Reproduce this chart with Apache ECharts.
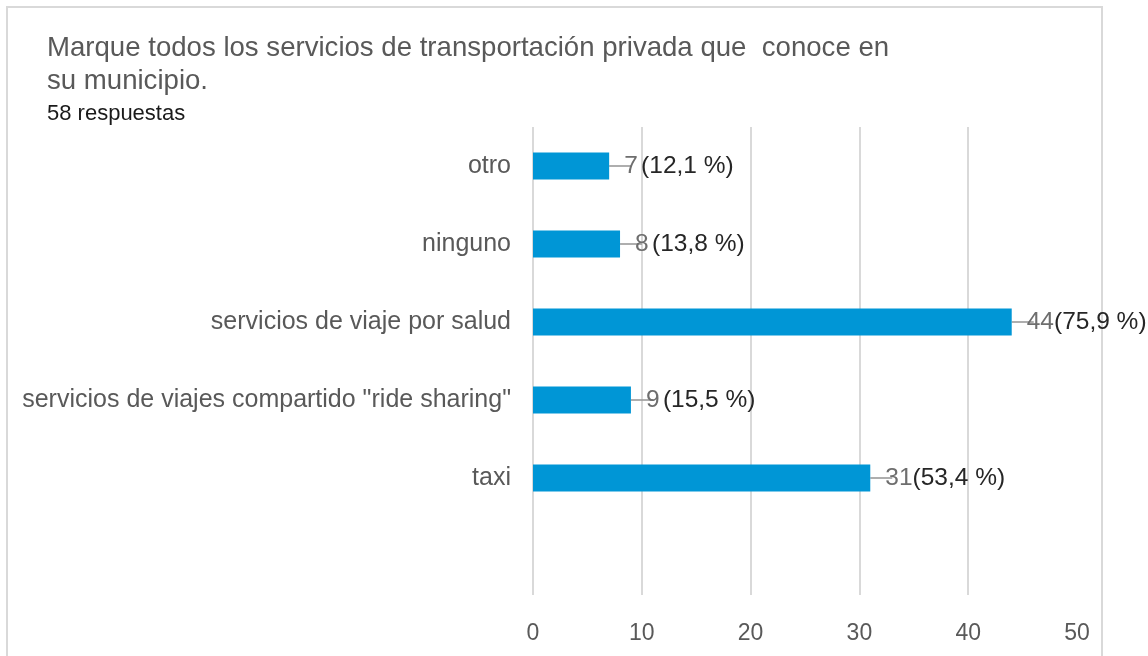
<!DOCTYPE html>
<html>
<head>
<meta charset="utf-8">
<script src="https://cdn.jsdelivr.net/npm/echarts@6/dist/echarts.min.js"></script>
<style>
html,body{margin:0;padding:0;background:#fff;}
#chart{width:1148px;height:656px;}
</style>
</head>
<body>
<div id="chart"></div>
<script>
const categories = ['otro', 'ninguno', 'servicios de viaje por salud', 'servicios de viajes compartido "ride sharing"', 'taxi', ''];
const counts = [7, 8, 44, 9, 31, null];
const percents = ['12,1 %', '13,8 %', '75,9 %', '15,5 %', '53,4 %', ''];
const xTicks = [0, 10, 20, 30, 40, 50];

const FONT = '"Liberation Sans", Arial, sans-serif';
const chart = echarts.init(document.getElementById('chart'));

const leaderData = counts.map((v, i) => v == null ? null : [v, i]).filter(d => d);

chart.setOption({
  animation: false,
  textStyle: { fontFamily: FONT },
  graphic: [{
    type: 'rect',
    shape: { x: 7, y: 7, width: 1095, height: 700 },
    style: { fill: 'none', stroke: '#d9d9d9', lineWidth: 2 },
    silent: true
  }],
  title: [{
    text: 'Marque todos los servicios de transportación privada que  conoce en\nsu municipio.',
    left: 47, top: 32, padding: 0,
    textStyle: { fontFamily: FONT, fontSize: 27.6, fontWeight: 'normal', color: '#595959', lineHeight: 33 }
  }, {
    text: '58 respuestas',
    left: 47, top: 102, padding: 0,
    textStyle: { fontFamily: FONT, fontSize: 22, fontWeight: 'normal', color: '#1a1a1a', lineHeight: 24 }
  }],
  grid: { left: 533, right: 71, top: 127, bottom: 61, containLabel: false },
  xAxis: {
    type: 'value', min: 0, max: 50, interval: 10,
    axisLine: { show: false }, axisTick: { show: false },
    splitLine: { show: true, showMaxLine: false, lineStyle: { color: '#d9d9d9', width: 2 } },
    axisLabel: { fontFamily: FONT, fontSize: 23, color: '#595959', margin: 27,
      formatter: v => xTicks.includes(v) ? String(v) : '' }
  },
  yAxis: {
    type: 'category', data: categories, inverse: true,
    axisLine: { show: false }, axisTick: { show: false }, splitLine: { show: false },
    axisLabel: { fontFamily: FONT, fontSize: 25, color: '#595959', margin: 22 }
  },
  series: [{
    type: 'scatter',
    data: leaderData,
    symbol: 'rect',
    symbolSize: [22, 2],
    symbolOffset: [11, 0],
    itemStyle: { color: '#9a9a9a' },
    z: 1,
    silent: true
  }, {
    type: 'bar',
    data: counts,
    barWidth: 27,
    itemStyle: { color: '#0096d6' },
    z: 2,
    label: {
      show: true, position: 'right', distance: 15,
      formatter: p => p.value == null ? '' :
        '{n|' + p.value + '}' + (p.value >= 10 ? '' : ' ') + '{p|(' + percents[p.dataIndex] + ')}',
      rich: {
        n: { fontFamily: FONT, fontSize: 24.5, color: '#6e6e6e' },
        p: { fontFamily: FONT, fontSize: 24.5, color: '#262626' }
      }
    }
  }]
});
</script>
</body>
</html>
